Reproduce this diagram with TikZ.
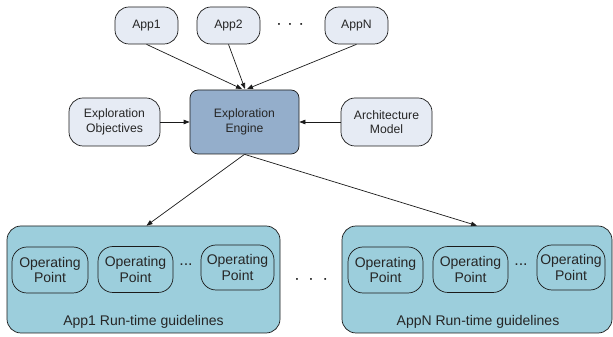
\documentclass[tikz,border=0pt]{standalone}
\usepackage{fontspec}
\setmainfont{Liberation Sans}
\usetikzlibrary{arrows.meta}
\definecolor{smallfill}{HTML}{E6EBF4}
\definecolor{enginefill}{HTML}{94AECB}
\definecolor{guidefill}{HTML}{9CCEDC}
\definecolor{linecol}{HTML}{1A1A1A}
\begin{document}
\begin{tikzpicture}[x=1pt,y=1pt,
  every node/.style={font=\fontsize{12.2}{14.5}\selectfont, text=black!85},
  inbox/.style={draw=linecol, line width=0.7pt, fill=smallfill, rounded corners=14pt, align=center, inner sep=0pt},
  enginebox/.style={draw=linecol, line width=0.7pt, fill=enginefill, rounded corners=8pt, align=center, inner sep=0pt, minimum width=109pt, minimum height=64pt},
  guidebox/.style={draw=linecol, line width=0.7pt, fill=guidefill, rounded corners=14pt, inner sep=0pt, minimum height=107pt},
  opbox/.style={draw=linecol, line width=0.7pt, rounded corners=15pt, align=center, inner sep=0pt, minimum height=46pt, font=\fontsize{14}{15.5}\selectfont},
  biglabel/.style={font=\fontsize{14}{16}\selectfont},
  dotstyle/.style={font=\fontsize{16}{16}\selectfont},
  conn/.style={draw=linecol, line width=0.7pt, -{Triangle[length=6pt,width=4.5pt]}}
]
\useasboundingbox (0,0) rectangle (613,337);
% top apps
\node[inbox, minimum width=63pt, minimum height=37pt] (app1) at (146.5,311.5) {App1};
\node[inbox, minimum width=63pt, minimum height=37pt] (app2) at (228.5,311.5) {App2};
\node[inbox, minimum width=63pt, minimum height=37pt] (appn) at (356.5,311.5) {AppN};
\node (topdots) at (290.5,311) {\textbf{·\hspace{7pt}·\hspace{7pt}·}};
% middle row
\node[inbox, minimum width=91pt, minimum height=48pt] (obj) at (114.5,215) {Exploration\\Objectives};
\node[enginebox] (engine) at (244.5,215) {Exploration\\Engine};
\node[inbox, minimum width=91pt, minimum height=48pt] (arch) at (386.5,215) {Architecture\\Model};
\coordinate (in1) at (242,248);
\coordinate (in2) at (245,248);
\coordinate (in3) at (247,248);
% bottom guideline boxes
\node[guidebox, minimum width=273pt] (g1) at (143.5,57.5) {};
\node[guidebox, minimum width=270pt] (g2) at (477,57.5) {};
\node (middots) at (311.5,56) {\textbf{·\hspace{10pt}·\hspace{10pt}·}};
% operating points left
\node[opbox, minimum width=76pt] (op11) at (50,67) {Operating\\Point};
\node[opbox, minimum width=75pt] (op12) at (135.5,67.5) {Operating\\Point};
\node[dotstyle] (dots1) at (186,72) {...};
\node[opbox, minimum width=73pt, minimum height=45pt] (op13) at (237.5,69.5) {Operating\\Point};
\node[biglabel] (lab1) at (143.5,15) {App1 Run-time guidelines};
% operating points right
\node[opbox, minimum width=75pt] (op21) at (385.5,67) {Operating\\Point};
\node[opbox, minimum width=75pt] (op22) at (470.5,67.5) {Operating\\Point};
\node[dotstyle] (dots2) at (521,72) {...};
\node[opbox, minimum width=68pt, minimum height=45pt] (op23) at (571,69.5) {Operating\\Point};
\node[biglabel] (lab2) at (478,15) {AppN Run-time guidelines};
% connectors
\draw[conn] (app1.south) -- (in1);
\draw[conn] (app2.south) -- (in2);
\draw[conn] (appn.south) -- (in3);
\draw[conn] (obj.east) -- (engine.west);
\draw[conn] (arch.west) -- (engine.east);
\draw[conn] (engine.south) -- ([xshift=3pt]g1.north);
\draw[conn] (engine.south) -- (g2.north);
\end{tikzpicture}
\end{document}
